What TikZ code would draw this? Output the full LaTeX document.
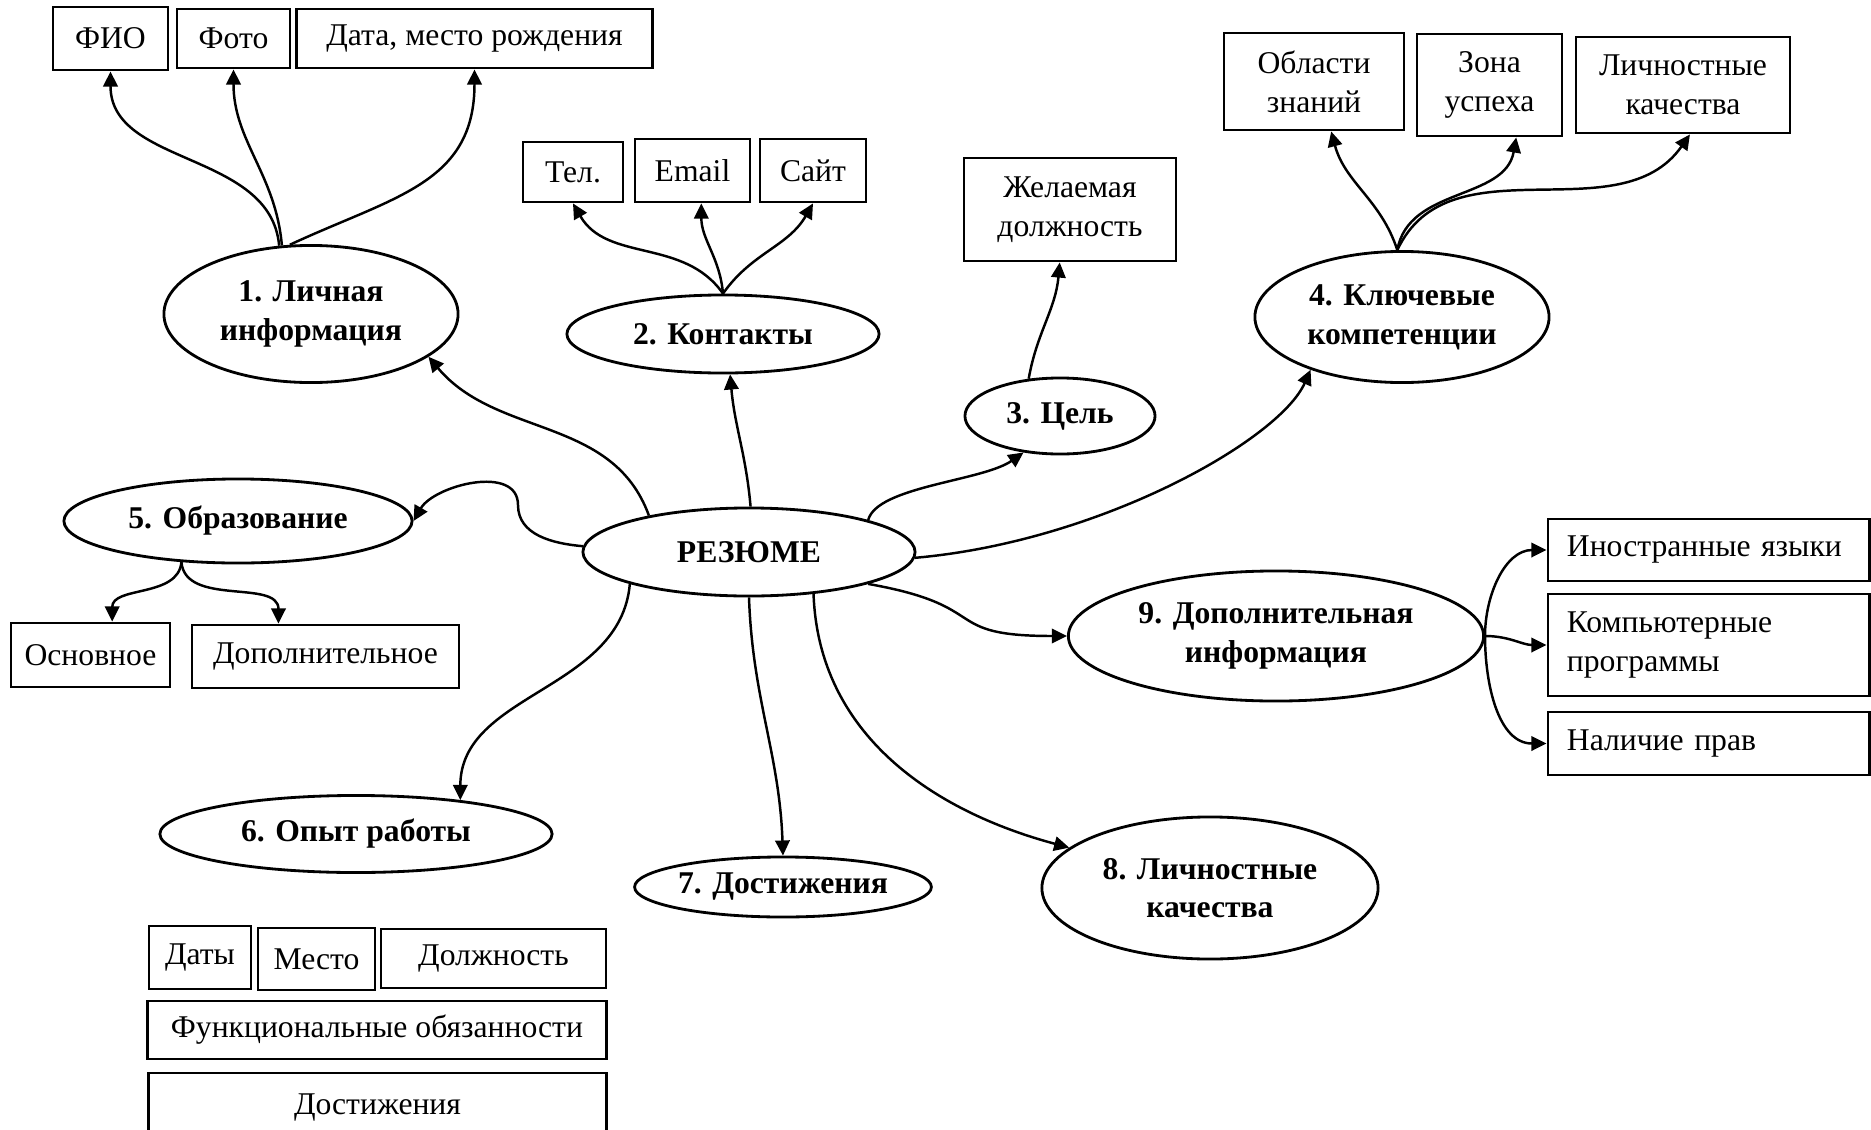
\documentclass[tikz,border=0pt]{standalone}
\usepackage{fontspec}
\setmainfont{Liberation Serif}
\usepackage{tikz}
\usetikzlibrary{shapes.geometric, arrows.meta}

\begin{document}
\begin{tikzpicture}[x=0.01cm, y=0.01cm,
    box/.style={draw, line width=0.8pt, inner sep=0pt, align=center, font=\fontsize{9}{11}\selectfont},
    lbox/.style={box, align=left, text width=2.83cm, inner xsep=0.19cm},
    oval/.style={draw, ellipse, line width=0.8pt, inner sep=0pt, align=center, font=\fontsize{9}{11}\selectfont\bfseries},
    arr/.style={-{Triangle[length=4.3pt, width=4.1pt]}, line width=0.7pt}]
      \useasboundingbox (0,0) rectangle (1871,-1130);
      \node [oval, minimum width=3.32cm, minimum height=0.88cm] (cv) at (749,-552) {РЕЗЮМЕ};
      \node [oval, minimum width=2.94cm, minimum height=1.37cm] (e1) at (311,-314) {1. Личная\\информация};
      \node [oval, minimum width=3.12cm, minimum height=0.78cm] (e2) at (723,-334) {2. Контакты};
      \node [oval, minimum width=1.90cm, minimum height=0.76cm] (e3) at (1060,-416) {3. Цель};
      \node [oval, minimum width=2.94cm, minimum height=1.31cm] (e4) at (1402,-317) {4. Ключевые\\компетенции};
      \node [oval, minimum width=3.48cm, minimum height=0.84cm] (e5) at (238,-521) {5. Образование};
      \node [oval, minimum width=3.92cm, minimum height=0.77cm] (e6) at (356,-834) {6. Опыт работы};
      \node [oval, minimum width=2.96cm, minimum height=0.60cm] (e7) at (783,-887) {7. Достижения};
      \node [oval, minimum width=3.36cm, minimum height=1.42cm] (e8) at (1210,-888) {8. Личностные\\качества};
      \node [oval, minimum width=4.15cm, minimum height=1.30cm] (e9) at (1276,-636) {9. Дополнительная\\информация};

      \node [box, minimum width=1.15cm, minimum height=0.63cm] (b_fio) at (110.5,-38.5) {ФИО};
      \node [box, minimum width=1.13cm, minimum height=0.59cm] (b_foto) at (233.5,-38.5) {Фото};
      \node [box, minimum width=3.55cm, minimum height=0.59cm] (b_date) at (474.5,-38.5) {Дата, место рождения};
      \node [box, minimum width=1.00cm, minimum height=0.60cm] (b_tel) at (573,-172) {Тел.};
      \node [box, minimum width=1.15cm, minimum height=0.63cm] (b_mail) at (692.5,-170.5) {Email};
      \node [box, minimum width=1.06cm, minimum height=0.63cm] (b_site) at (813,-170.5) {Сайт};
      \node [box, minimum width=2.12cm, minimum height=1.03cm] (b_goal) at (1070,-209.5) {Желаемая\\должность};
      \node [box, minimum width=1.80cm, minimum height=0.97cm] (b_area) at (1314,-81.5) {Области\\знаний};
      \node [box, minimum width=1.45cm, minimum height=1.02cm] (b_zone) at (1489.5,-85) {Зона\\успеха};
      \node [box, minimum width=2.14cm, minimum height=0.96cm] (b_pers) at (1683,-85) {Личностные\\качества};
      \node [box, minimum width=1.59cm, minimum height=0.64cm] (b_basic) at (90.5,-655) {Основное};
      \node [box, minimum width=2.67cm, minimum height=0.63cm] (b_extra) at (325.5,-656.5) {Дополнительное};
      \node [lbox, minimum width=3.21cm, minimum height=0.62cm] (b_lang) at (1708.5,-550) {Иностранные~языки};
      \node [lbox, minimum width=3.21cm, minimum height=1.02cm] (b_soft) at (1708.5,-645) {Компьютерные\\программы};
      \node [lbox, minimum width=3.21cm, minimum height=0.63cm] (b_lic) at (1708.5,-743.5) {Наличие прав};
      \node [box, minimum width=1.02cm, minimum height=0.63cm] (b_dates) at (200,-957.5) {Даты};
      \node [box, minimum width=1.17cm, minimum height=0.62cm] (b_place) at (316.5,-959) {Место};
      \node [box, minimum width=2.25cm, minimum height=0.59cm] (b_pos) at (493.5,-958.5) {Должность};
      \node [box, minimum width=4.58cm, minimum height=0.58cm] (b_duty) at (377,-1030) {Функциональные обязанности};
      \node [box, minimum width=4.57cm, minimum height=0.68cm] (b_ach) at (377.5,-1107) {Достижения};

      \draw[arr] (cv.160) to[out=110, in=-50] (e1.-20);
      \draw[arr] (cv.88) to[out=95, in=-85] (e2.-80);
      \draw[arr] (cv.15) to[out=75, in=-145, out distance=0.35cm, in distance=0.5cm] (e3.-135);
      \draw[arr] (cv.-2) to[out=5, in=-114, out distance=1.85cm, in distance=0.77cm] (e4.-150);
      \draw[arr] (cv.178) to[out=175, in=-90] (518,-505) to[out=90, in=60] (e5.east);
      \draw[arr] (cv.195) to[out=-95, in=90] (e6.18);
      \draw[arr] (cv.-90) to[out=-88, in=92] (e7.north);
      \draw[arr] (cv.-33) to[out=-88, in=165] (e8.164);
      \draw[arr] (cv.-15) to[out=-10, in=180, looseness=1.6] (e9.west);

      \draw[arr] (e1.115) to[out=95, in=-90] (b_fio.south);
      \draw[arr] (e1.113) to[out=95, in=-90] (b_foto.south);
      \draw[arr] (e1.107) to[out=25, in=-90, looseness=1.15] (b_date.south);
      \draw[arr] (e2.north) to[out=125, in=-60] (b_tel.south);
      \draw[arr] (e2.north) to[out=95, in=-90] (b_mail.-75);
      \draw[arr] (e2.north) to[out=55, in=-120] (b_site.south);
      \draw[arr] (e3.130) to[out=80, in=-95] (b_goal.-101);
      \draw[arr] (e4.94) to[out=108, in=-75] (b_area.-71);
      \draw[arr] (e4.94) to[out=80, in=-100] (b_zone.-63);
      \draw[arr] (e4.94) to[out=65, in=-125] (b_pers.-82);
      \draw[arr] (e5.-144) to[out=-95, in=90] (b_basic.57);
      \draw[arr] (e5.-144) to[out=-85, in=90] (b_extra.145);
      \draw[arr] (e9.east) to[out=90, in=180] (b_lang.west);
      \draw[arr] (e9.east) to[out=0, in=180] (b_soft.west);
      \draw[arr] (e9.east) to[out=-90, in=180] (b_lic.west);
    \end{tikzpicture}
\end{document}
